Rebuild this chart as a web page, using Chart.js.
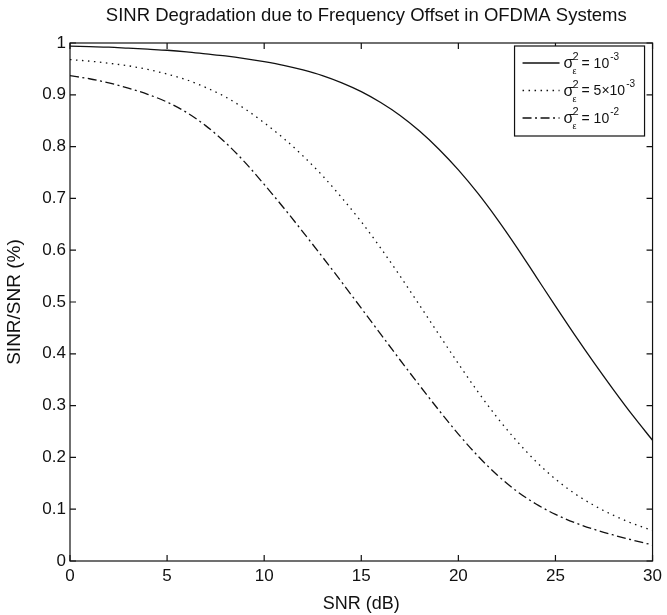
<!DOCTYPE html>
<html>
<head>
<meta charset="utf-8">
<script src="https://cdn.jsdelivr.net/npm/chart.js@4.4.1/dist/chart.umd.min.js"></script>
<style>
  html, body { margin: 0; padding: 0; background: #fff; }
  #grafico { display: block; }
</style>
</head>
<body>
<canvas id="grafico" width="667" height="615"></canvas>
<script>
// SNR in dB, 1 dB steps
const snr = [0,1,2,3,4,5,6,7,8,9,10,11,12,13,14,15,16,17,18,19,20,21,22,23,24,25,26,27,28,29,30]

// valores
const sinrVar1e3 = [0.994,0.993,0.992,0.990,0.988,0.986,0.983,0.979,0.975,0.970,0.964,0.957,0.948,0.937,0.923,0.906,0.885,0.860,0.830,0.795,0.755,0.710,0.660,0.606,0.549,0.492,0.436,0.382,0.330,0.280,0.233]
const sinrVar5e3 = [0.968,0.965,0.961,0.956,0.949,0.940,0.929,0.914,0.896,0.873,0.846,0.816,0.782,0.744,0.701,0.655,0.604,0.550,0.494,0.437,0.381,0.327,0.277,0.232,0.192,0.158,0.130,0.107,0.088,0.072,0.059]
const sinrVar1e2 = [0.937,0.931,0.923,0.913,0.901,0.886,0.866,0.840,0.808,0.770,0.727,0.682,0.635,0.587,0.538,0.488,0.438,0.388,0.339,0.291,0.245,0.203,0.166,0.135,0.110,0.090,0.074,0.061,0.050,0.040,0.031]

const seriesLabels = ['σ²ε = 10⁻³', 'σ²ε = 5×10⁻³', 'σ²ε = 10⁻²']
const legendBase = ['10', '5×10', '10']
const legendExp = ['-3', '-3', '-2']
const chartTitle = 'SINR Degradation due to Frequency Offset in OFDMA Systems'

const FONT = '"Liberation Sans", Arial, Helvetica, sans-serif'
Chart.defaults.font.family = FONT
Chart.defaults.color = '#111'

const toPoints = ys => snr.map((x, i) => ({ x, y: ys[i] }))

const dashes = [[], [1.5, 4.5], [9, 3.5, 2, 3.5]]

const data = {
  datasets: [sinrVar1e3, sinrVar5e3, sinrVar1e2].map((ys, i) => ({
    label: seriesLabels[i],
    data: toPoints(ys),
    borderColor: '#111',
    borderWidth: 1.3,
    borderDash: dashes[i],
    pointRadius: 0,
    cubicInterpolationMode: 'monotone',
    fill: false
  }))
}

// titulo centrado sobre a area do grafico
const topTitle = {
  id: 'topTitle',
  afterDraw(chart) {
    const { ctx, chartArea: a } = chart
    ctx.save()
    ctx.fillStyle = '#111'
    ctx.font = '18.5px ' + FONT
    ctx.textAlign = 'center'
    ctx.textBaseline = 'alphabetic'
    ctx.fillText(chartTitle, (a.left + a.right) / 2 + 5, 20.5)
    ctx.restore()
  }
}

// moldura + ticks para dentro (estilo matlab)
const frame = {
  id: 'frame',
  afterDraw(chart) {
    const { ctx, chartArea: a, scales } = chart
    ctx.save()
    ctx.strokeStyle = '#111'
    ctx.lineWidth = 1.2
    ctx.strokeRect(a.left, a.top, a.right - a.left, a.bottom - a.top)
    const len = 6
    ctx.beginPath()
    scales.x.ticks.forEach(t => {
      const px = scales.x.getPixelForValue(t.value)
      ctx.moveTo(px, a.bottom); ctx.lineTo(px, a.bottom - len)
      ctx.moveTo(px, a.top); ctx.lineTo(px, a.top + len)
    })
    scales.y.ticks.forEach(t => {
      const py = scales.y.getPixelForValue(t.value)
      ctx.moveTo(a.left, py); ctx.lineTo(a.left + len, py)
      ctx.moveTo(a.right, py); ctx.lineTo(a.right - len, py)
    })
    ctx.stroke()
    ctx.restore()
  }
}

// legenda com sobrescrito/subscrito
const legendBox = {
  id: 'legendBox',
  afterDraw(chart) {
    const { ctx, chartArea: a } = chart
    const bx = a.right - 138, by = a.top + 3, bw = 130, bh = 90
    ctx.save()
    ctx.fillStyle = '#fff'
    ctx.fillRect(bx, by, bw, bh)
    ctx.strokeStyle = '#111'
    ctx.lineWidth = 1.2
    ctx.strokeRect(bx, by, bw, bh)
    chart.data.datasets.forEach((ds, i) => {
      const y = by + 17 + i * 27.5
      ctx.beginPath()
      ctx.setLineDash(ds.borderDash)
      ctx.lineWidth = 1.3
      ctx.moveTo(bx + 8, y); ctx.lineTo(bx + 45, y)
      ctx.stroke()
      ctx.setLineDash([])
      ctx.fillStyle = '#111'
      ctx.textBaseline = 'middle'
      ctx.textAlign = 'left'
      let x = bx + 49
      ctx.font = '16px ' + FONT
      ctx.fillText('σ', x, y + 1)
      ctx.font = '11px ' + FONT
      ctx.fillText('2', x + 9, y - 6)
      ctx.font = '9px ' + FONT
      ctx.fillText('ε', x + 9, y + 9)
      x += 18
      ctx.font = '14px ' + FONT
      const t = '= ' + legendBase[i]
      ctx.fillText(t, x, y + 1)
      x += ctx.measureText(t).width + 1
      ctx.font = '10px ' + FONT
      ctx.fillText(legendExp[i], x, y - 6)
    })
    ctx.restore()
  }
}

const config = {
  type: 'line',
  data,
  options: {
    responsive: false,
    animation: false,
    devicePixelRatio: 1,
    layout: { padding: { left: 0, right: 10, top: 43, bottom: 0 } },
    plugins: {
      legend: { display: false },
      tooltip: { enabled: false },
      title: { display: false }
    },
    scales: {
      x: {
        type: 'linear',
        min: 0, max: 30,
        afterFit(s) { s.height = 54 },
        grid: { display: false, drawTicks: false },
        border: { display: false },
        ticks: { stepSize: 5, padding: 5, font: { size: 17 }, color: '#111', maxRotation: 0 },
        title: { display: true, text: 'SNR (dB)', font: { size: 18 }, color: '#111', padding: { top: 0, bottom: 0 } }
      },
      y: {
        min: 0, max: 1,
        afterFit(s) { s.width = 70 },
        grid: { display: false, drawTicks: false },
        border: { display: false },
        ticks: {
          stepSize: 0.1, padding: 4, font: { size: 17 }, color: '#111',
          callback: v => String(Number(v.toFixed(1)))
        },
        title: { display: true, text: 'SINR/SNR (%)', font: { size: 19 }, color: '#111', padding: { top: 3.5, bottom: 0 } }
      }
    }
  },
  plugins: [frame, legendBox, topTitle]
}

const graph = new Chart(document.getElementById('grafico'), config)
</script>
</body>
</html>
